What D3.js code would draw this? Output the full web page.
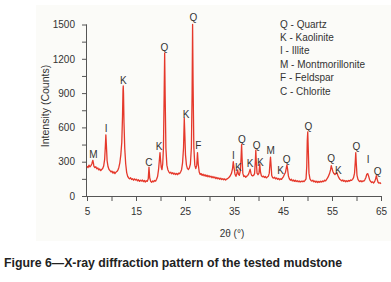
<!DOCTYPE html>
<html>
<head>
<meta charset="utf-8">
<script src="https://cdn.jsdelivr.net/npm/d3@7"></script>
<style>
  body { margin: 0; background: #fff; }
  svg { display: block; font-family: "Liberation Sans", Arial, sans-serif; }
  .tick-label { font-size: 10px; fill: #333; }
  .axis-title { font-size: 10.5px; fill: #333; }
  .peak-label { font-size: 10px; fill: #333; }
  .legend { font-size: 10px; fill: #333; }
  .caption { font-size: 12.3px; font-weight: bold; fill: #222; }
</style>
</head>
<body>
<svg id="chart" width="391" height="282"></svg>
<script>
// XRD pattern: [2theta (deg), intensity (counts)]
const pattern = [
  [5.0, 262], [5.2, 248], [5.4, 270], [5.6, 255], [5.8, 266], [6.0, 282], [6.1, 300], [6.2, 312],
  [6.3, 290], [6.4, 262], [6.6, 248], [6.8, 256], [7.0, 238], [7.2, 246], [7.4, 228], [7.6, 236],
  [7.8, 222], [8.0, 232], [8.2, 240], [8.4, 262], [8.6, 320], [8.75, 440], [8.85, 535], [8.95, 450],
  [9.1, 310], [9.3, 255], [9.5, 232], [9.7, 222], [9.9, 210], [10.1, 218], [10.3, 200], [10.5, 212],
  [10.7, 196], [10.9, 208], [11.1, 214], [11.3, 226], [11.5, 250], [11.7, 290], [11.9, 360], [12.1, 470],
  [12.25, 700], [12.35, 930], [12.4, 962], [12.45, 900], [12.55, 640], [12.7, 420], [12.9, 280], [13.1, 205],
  [13.3, 172], [13.5, 158], [13.7, 150], [13.9, 160], [14.1, 144], [14.3, 152], [14.5, 138], [14.7, 150],
  [14.9, 140], [15.1, 146], [15.3, 132], [15.5, 142], [15.7, 128], [15.9, 138], [16.1, 130], [16.3, 140],
  [16.5, 126], [16.7, 136], [16.9, 122], [17.1, 134], [17.3, 128], [17.5, 150], [17.65, 252], [17.8, 160],
  [18.0, 128], [18.2, 120], [18.4, 132], [18.6, 124], [18.8, 136], [19.0, 130], [19.2, 146], [19.4, 170],
  [19.6, 230], [19.8, 330], [19.9, 380], [20.0, 320], [20.15, 250], [20.3, 230], [20.45, 280], [20.6, 420],
  [20.75, 900], [20.85, 1250], [20.95, 880], [21.1, 420], [21.3, 270], [21.5, 230], [21.7, 212], [21.9, 200],
  [22.1, 208], [22.3, 194], [22.5, 204], [22.7, 190], [22.9, 200], [23.1, 188], [23.3, 198], [23.5, 186],
  [23.7, 200], [23.9, 196], [24.1, 210], [24.3, 230], [24.5, 290], [24.7, 420], [24.85, 680], [24.95, 560],
  [25.1, 360], [25.3, 270], [25.5, 240], [25.7, 232], [25.9, 246], [26.1, 280], [26.3, 420], [26.45, 900],
  [26.55, 1500], [26.65, 980], [26.8, 430], [27.0, 270], [27.2, 240], [27.4, 270], [27.55, 380], [27.7, 280],
  [27.9, 210], [28.1, 188], [28.3, 196], [28.5, 180], [28.7, 190], [28.9, 176], [29.1, 186], [29.3, 172],
  [29.5, 182], [29.7, 168], [29.9, 178], [30.1, 166], [30.3, 174], [30.5, 160], [30.7, 170], [30.9, 158],
  [31.1, 166], [31.3, 152], [31.5, 162], [31.7, 150], [31.9, 158], [32.1, 146], [32.3, 156], [32.5, 144],
  [32.7, 152], [32.9, 142], [33.1, 150], [33.3, 140], [33.5, 148], [33.7, 152], [33.9, 160], [34.1, 168],
  [34.3, 182], [34.5, 200], [34.7, 240], [34.85, 300], [35.0, 250], [35.2, 190], [35.4, 172], [35.6, 200],
  [35.75, 228], [35.9, 190], [36.1, 182], [36.3, 220], [36.45, 340], [36.55, 450], [36.65, 330], [36.8, 200],
  [37.0, 170], [37.2, 176], [37.4, 164], [37.6, 172], [37.8, 180], [38.0, 194], [38.2, 222], [38.3, 234],
  [38.45, 200], [38.6, 182], [38.8, 176], [39.0, 180], [39.2, 196], [39.35, 300], [39.45, 400], [39.55, 300],
  [39.7, 200], [39.9, 186], [40.1, 200], [40.25, 280], [40.4, 210], [40.6, 176], [40.8, 168], [41.0, 174],
  [41.2, 162], [41.4, 170], [41.6, 158], [41.8, 166], [42.0, 172], [42.2, 200], [42.35, 290], [42.45, 340],
  [42.55, 280], [42.7, 180], [42.9, 160], [43.1, 156], [43.3, 164], [43.5, 150], [43.7, 158], [43.9, 146],
  [44.1, 154], [44.3, 142], [44.5, 150], [44.7, 146], [44.9, 158], [45.1, 170], [45.3, 190], [45.5, 206],
  [45.65, 240], [45.8, 272], [45.95, 230], [46.1, 176], [46.3, 150], [46.5, 138], [46.7, 146], [46.9, 132],
  [47.1, 140], [47.3, 128], [47.5, 138], [47.7, 126], [47.9, 134], [48.1, 124], [48.3, 132], [48.5, 122],
  [48.7, 130], [48.9, 124], [49.1, 132], [49.3, 126], [49.5, 136], [49.7, 150], [49.85, 260], [49.95, 480],
  [50.05, 560], [50.15, 420], [50.3, 200], [50.5, 150], [50.7, 136], [50.9, 130], [51.1, 138], [51.3, 124],
  [51.5, 132], [51.7, 120], [51.9, 130], [52.1, 118], [52.3, 128], [52.5, 120], [52.7, 130], [52.9, 122],
  [53.1, 132], [53.3, 126], [53.5, 138], [53.7, 132], [53.9, 146], [54.1, 158], [54.3, 176], [54.5, 196],
  [54.7, 228], [54.85, 265], [55.0, 240], [55.2, 212], [55.4, 196], [55.6, 188], [55.8, 196], [56.0, 204],
  [56.2, 180], [56.4, 160], [56.6, 146], [56.8, 140], [57.0, 132], [57.2, 140], [57.4, 128], [57.6, 136],
  [57.8, 124], [58.0, 134], [58.2, 126], [58.4, 136], [58.6, 130], [58.8, 140], [59.0, 136], [59.2, 146],
  [59.4, 160], [59.6, 200], [59.75, 300], [59.85, 380], [59.95, 290], [60.1, 180], [60.3, 146], [60.5, 132],
  [60.7, 126], [60.9, 134], [61.1, 124], [61.3, 132], [61.5, 130], [61.7, 142], [61.9, 160], [62.1, 190],
  [62.3, 196], [62.5, 170], [62.7, 140], [62.9, 126], [63.1, 118], [63.3, 124], [63.5, 114], [63.7, 126],
  [63.9, 150], [64.05, 178], [64.2, 150], [64.4, 120], [64.6, 112], [64.8, 116], [65.0, 108]
];

// Phase letters above the peaks: [letter, 2theta, counts at label centre]
const peakLabels = [
  ["M", 6.3, 367], ["I", 8.9, 592], ["K", 12.4, 1006], ["C", 17.65, 295], ["K", 19.7, 437],
  ["Q", 20.8, 1297], ["K", 25.2, 717], ["Q", 26.7, 1563], ["F", 27.7, 440], ["I", 34.9, 353],
  ["K", 35.9, 251], ["Q", 36.6, 496], ["K", 38.3, 286], ["Q", 39.6, 446], ["K", 40.4, 295],
  ["M", 42.5, 402], ["K", 44.5, 227], ["Q", 45.75, 321], ["Q", 50.2, 606], ["Q", 54.8, 330],
  ["K", 56.3, 227], ["Q", 60.0, 431], ["I", 62.4, 321], ["Q", 64.3, 213]
];

const legendItems = ["Q - Quartz", "K - Kaolinite", "I - Illite", "M - Montmorillonite", "F - Feldspar", "C - Chlorite"];
const xTicks = [5, 15, 25, 35, 45, 55, 65];
const yTicks = [0, 300, 600, 900, 1200, 1500];

/** Draws the diffraction pattern figure. */
class XrdChart {
    constructor() {
        this.svg = d3.select("#chart");
        this.x = d3.scaleLinear().domain([5, 65]).range([87, 381]);
        this.y = d3.scaleLinear().domain([0, 1500]).range([196, 24.5]);
    }

    drawAxes() {
        // faint panel behind the plot
        this.svg.append("rect")
            .attr("x", 36).attr("y", 5).attr("width", 355).attr("height", 236)
            .attr("fill", "#fbfbf8");

        let xAxis = d3.axisBottom(this.x)
            .tickValues(d3.range(5, 66, 5))
            .tickSize(5)
            .tickFormat(d => xTicks.includes(d) ? d : "");
        let yAxis = d3.axisLeft(this.y)
            .tickValues(d3.range(0, 1501, 150))
            .tickSize(5)
            .tickFormat(d => yTicks.includes(d) ? d : "");

        let gx = this.svg.append("g").attr("transform", "translate(0,196)").call(xAxis);
        let gy = this.svg.append("g").attr("transform", "translate(87,0)").call(yAxis);

        // plain look: grey lines, small labels
        [gx, gy].forEach(g => {
            g.select(".domain").attr("stroke", "#555");
            g.selectAll(".tick line").attr("stroke", "#555");
            g.selectAll(".tick text").attr("class", "tick-label").attr("font-family", null).attr("font-size", null);
        });
        gx.select(".domain").attr("d", "M87,0.5H381");
        gy.select(".domain").attr("d", "M-0.5,196V24.5");
        gx.selectAll(".tick text").attr("dy", "0.71em").attr("y", 12);
        gy.selectAll(".tick text").attr("x", -12);

        this.svg.append("text")
            .attr("class", "axis-title")
            .attr("transform", "translate(45,106) rotate(-90)")
            .attr("text-anchor", "middle")
            .attr("dy", "0.35em")
            .text("Intensity (Counts)");

        this.svg.append("text")
            .attr("class", "tick-label")
            .attr("x", 232).attr("y", 233)
            .attr("text-anchor", "middle")
            .attr("dy", "0.35em")
            .text("2θ (°)");
    }

    drawPattern() {
        let line = d3.line()
            .x(d => this.x(d[0]))
            .y(d => this.y(d[1]));

        this.svg.append("path")
            .datum(pattern)
            .attr("d", line)
            .attr("fill", "none")
            .attr("stroke", "#e5382b")
            .attr("stroke-width", 1.3)
            .attr("stroke-linejoin", "round");

        this.svg.append("g").selectAll("text")
            .data(peakLabels)
            .enter()
            .append("text")
            .attr("class", "peak-label")
            .attr("x", d => this.x(d[1]))
            .attr("y", d => this.y(d[2]))
            .attr("dy", "0.35em")
            .attr("text-anchor", "middle")
            .text(d => d[0]);
    }

    drawLegend() {
        this.svg.append("g").selectAll("text")
            .data(legendItems)
            .enter()
            .append("text")
            .attr("class", "legend")
            .attr("x", 280)
            .attr("y", (d, i) => 24 + i * 13.4)
            .attr("dy", "0.35em")
            .text(d => d);

        this.svg.append("text")
            .attr("class", "caption")
            .attr("x", 4).attr("y", 263)
            .attr("dy", "0.35em")
            .text("Figure 6—X-ray diffraction pattern of the tested mudstone");
    }
}

let chart = new XrdChart();
chart.drawAxes();
chart.drawPattern();
chart.drawLegend();
</script>
</body>
</html>
